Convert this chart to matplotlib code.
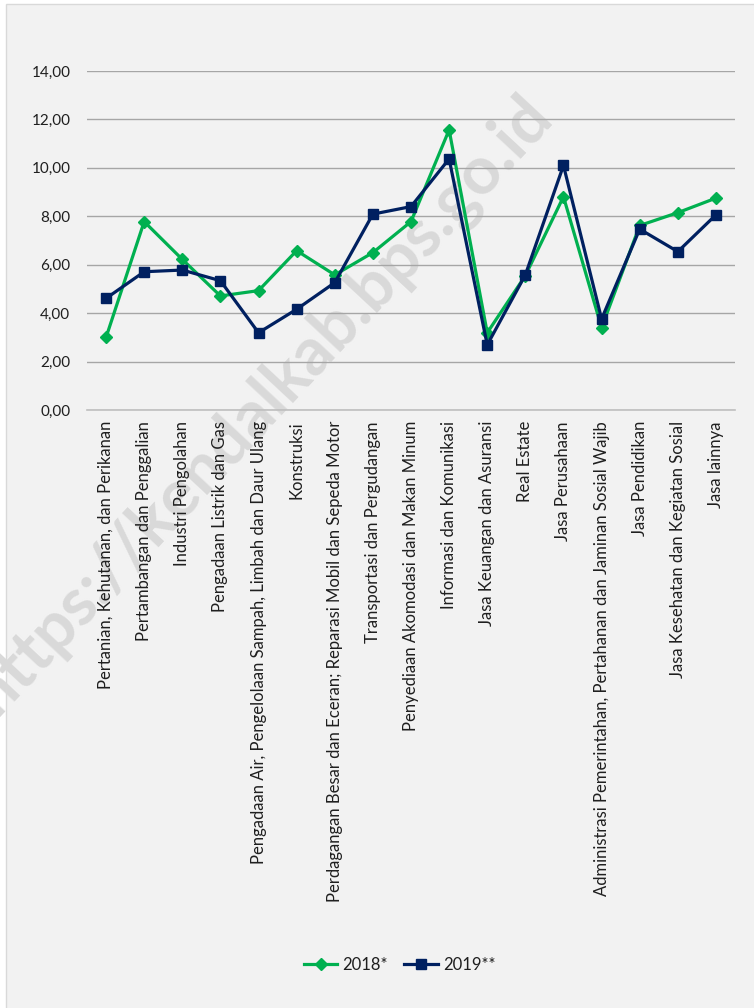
import numpy as np
import matplotlib
matplotlib.use("Agg", force=True)
import matplotlib.pyplot as plt
from matplotlib.patches import Rectangle

plt.rcParams["font.family"] = ["Lato", "DejaVu Sans"]

categories = [
    "Pertanian, Kehutanan, dan Perikanan",
    "Pertambangan dan Penggalian",
    "Industri Pengolahan",
    "Pengadaan Listrik dan Gas",
    "Pengadaan Air, Pengelolaan Sampah, Limbah dan Daur Ulang",
    "Konstruksi",
    "Perdagangan Besar dan Eceran; Reparasi Mobil dan Sepeda Motor",
    "Transportasi dan Pergudangan",
    "Penyediaan Akomodasi dan Makan Minum",
    "Informasi dan Komunikasi",
    "Jasa Keuangan dan Asuransi",
    "Real Estate",
    "Jasa Perusahaan",
    "Administrasi Pemerintahan, Pertahanan dan Jaminan Sosial Wajib",
    "Jasa Pendidikan",
    "Jasa Kesehatan dan Kegiatan Sosial",
    "Jasa lainnya",
]
values_2018 = [3.00, 7.78, 6.22, 4.71, 4.93, 6.58, 5.58, 6.50, 7.78,
               11.57, 3.19, 5.55, 8.81, 3.40, 7.62, 8.15, 8.75]
values_2019 = [4.61, 5.71, 5.78, 5.34, 3.19, 4.16, 5.26, 8.09, 8.40,
               10.37, 2.69, 5.58, 10.10, 3.76, 7.47, 6.54, 8.06]
y_ticks = [0, 2, 4, 6, 8, 10, 12, 14]

GREEN = "#00B050"
NAVY = "#002060"
BG = "#F2F2F2"
TXT = "#1F1F1F"

W, H = 754, 1008
fig = plt.figure(figsize=(W / 100, H / 100), dpi=100, facecolor="white")
fig.patches.append(Rectangle((6 / W, -0.01), 1, 1 - 4 / H + 0.01,
                             transform=fig.transFigure, facecolor=BG,
                             edgecolor="#D9D9D9", lw=1, zorder=-10))

# watermark, behind the chart
fig.text(262 / W, 1 - 405 / H, "https://kendalkab.bps.go.id", rotation=47,
         fontsize=48, fontweight="bold", color="#D9D9D9",
         ha="center", va="center", rotation_mode="anchor", zorder=-5)

ax = fig.add_axes([87 / W, 1 - 410 / H, (735 - 87) / W, (410 - 71) / H])
ax.patch.set_alpha(0)
x = np.arange(len(categories))

ax.plot(x, values_2018, color=GREEN, lw=2.3, marker="D", ms=6.5,
        label="2018*", zorder=3)
ax.plot(x, values_2019, color=NAVY, lw=2.3, marker="s", ms=7,
        label="2019**", zorder=4)

ax.set_xlim(-0.5, len(categories) - 0.5)
ax.set_ylim(0, 14)
ax.set_yticks(y_ticks)
ax.set_yticklabels([f"{v:.2f}".replace(".", ",") for v in y_ticks],
                   fontsize=11, color=TXT)
ax.yaxis.grid(True, color="#A6A6A6", lw=1)
ax.set_axisbelow(True)
for s in ["top", "right", "left"]:
    ax.spines[s].set_visible(False)
ax.spines["bottom"].set_color("#BFBFBF")
ax.spines["bottom"].set_linewidth(1.2)
ax.tick_params(axis="y", length=0, pad=12)
ax.tick_params(axis="x", length=0, pad=8)
ax.set_xticks(x)
ax.set_xticklabels(categories, rotation=90, fontsize=12, color=TXT,
                   va="top", ha="center")

leg = fig.legend(loc="center", bbox_to_anchor=(0.53, 1 - 965 / H), ncol=2,
                 frameon=False, fontsize=12, handlelength=2.0,
                 columnspacing=1.0, handletextpad=0.3, labelcolor=TXT)

fig.savefig("out.png", dpi=100, facecolor=fig.get_facecolor())
